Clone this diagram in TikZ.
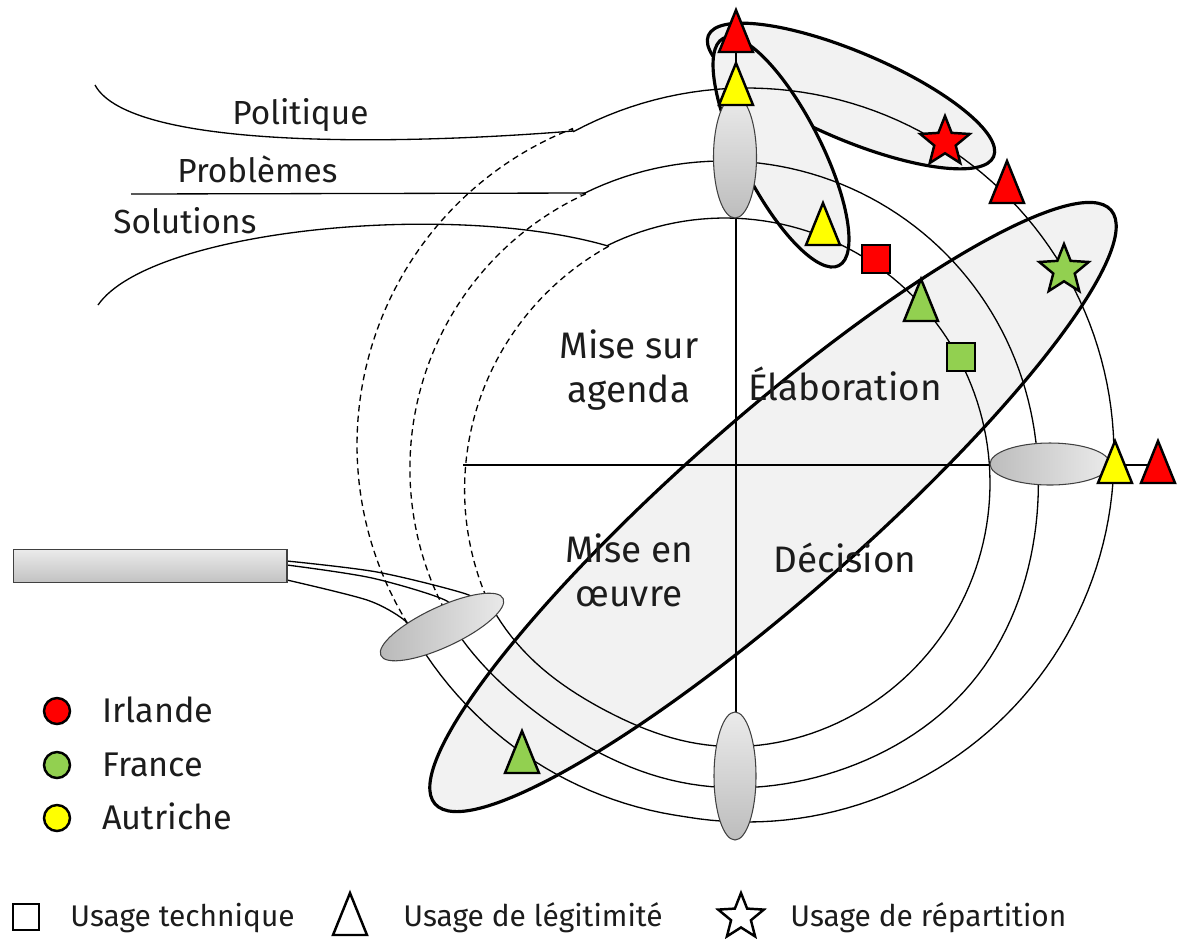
\documentclass[tikz,border=0pt]{standalone}
\usepackage{fontspec}
\setmainfont{Fira Sans}
\setsansfont{Fira Sans}
\usetikzlibrary{shapes.geometric}
\definecolor{ink}{HTML}{1C1C1C}
\definecolor{zonefill}{HTML}{F2F2F2}
\definecolor{irl}{HTML}{FF0000}
\definecolor{fra}{HTML}{92D050}
\definecolor{aut}{HTML}{FFFF00}
\tikzset{
  tri/.pic={\draw[mk,fill=#1] (0,-21) -- (17,21) -- (-17,21) -- cycle;}
}
\begin{document}
\begin{tikzpicture}[x=0.02cm,y=-0.02cm,font=\sffamily,text=ink,
  flow/.style={line width=0.75pt},
  gate/.style={flow,dash pattern=on 3.6pt off 2.4pt},
  zone/.style={ellipse,draw,line width=1.8pt,fill=zonefill,inner sep=0pt},
  hub/.style={ellipse,draw=black!75,line width=0.6pt,inner sep=0pt},
  mk/.style={draw=black,line width=1.4pt},
  sq/.style={mk,rectangle,minimum size=0.56cm,inner sep=0pt},
  st/.style={mk,star,star points=5,star point ratio=2.3,minimum size=1.04cm,inner sep=0pt},
  dot/.style={mk,circle,minimum size=0.52cm,inner sep=0pt},
  stream/.style={anchor=base west,inner sep=0pt,font=\sffamily\fontsize{19}{22}\selectfont},
  phase/.style={align=center,inner sep=0pt,font=\sffamily\fontsize{21}{25}\selectfont},
  key/.style={anchor=base west,inner sep=0pt,font=\sffamily\fontsize{19.5}{22}\selectfont},
  usage/.style={anchor=base west,inner sep=0pt,font=\sffamily\fontsize{17}{20}\selectfont}]
  \useasboundingbox (0,0) rectangle (1177,938);

  % coalitions
  \node[zone,minimum width=6.2cm,minimum height=1.76cm,rotate=-23] (zPol) at (851,96) {};
  \node[zone,minimum width=5.1cm,minimum height=1.6cm,rotate=-63] (zAgd) at (781,152) {};
  \node[zone,minimum width=18cm,minimum height=3.6cm,rotate=41.3] (zDec) at (773,507) {};

  % axes
  \coordinate (vTop) at (736,50);
  \coordinate (vBot) at (736,712);
  \coordinate (hL) at (463,465);
  \coordinate (hR) at (1160,465);
  \draw[flow] (vTop) -- (vBot);
  \draw[flow] (hL) -- (hR);

  % streams
  \coordinate (sPol) at (95,85);
  \coordinate (sPro) at (131,194);
  \coordinate (sSol) at (98,305);
  \coordinate (jPol) at (573,131);
  \coordinate (jPro) at (585,193);
  \coordinate (jSol) at (608,246);
  \coordinate (kO) at (412,633);
  \coordinate (kM) at (450,620);
  \coordinate (kI) at (491,607);
  \draw[flow] (sPol) .. controls (130,150) and (400,145) .. (jPol);
  \draw[flow] (sPro) -- (jPro);
  \draw[flow] (sSol) .. controls (150,230) and (450,200) .. (jSol);

  % cycles
  \draw[flow] (jPol) -- plot[domain=-118.2:152,samples=140]
    ({747+(367+0.23*max(0,\x-100))*cos(\x)},{455+(367+0.23*max(0,\x-100))*sin(\x)}) -- (kO);
  \draw[flow] (jPro) -- plot[domain=-116.1:152,samples=140]
    ({723+(314+10*exp(-((\x-40)/28)^2)-12*exp(-((\x-125)/26)^2))*cos(\x)},
     {475+(314+10*exp(-((\x-40)/28)^2)-12*exp(-((\x-125)/26)^2))*sin(\x)}) -- (kM);
  \draw[flow] (jSol) -- plot[domain=-116.3:152,samples=140]
    ({725+(265-8*exp(-((\x-118)/22)^2))*cos(\x)},{483+(265-8*exp(-((\x-118)/22)^2))*sin(\x)}) -- (kI);
  \draw[gate] (jPol) -- plot[domain=-111.5:-213.4,samples=80]
    ({697+340*cos(\x)},{445+340*sin(\x)}) -- (kO);
  \draw[gate] (jPro) -- plot[domain=-115.4:-210.4,samples=80]
    ({714+(300+6*(-115.4-\x)/95)*cos(\x)},{465+(300+6*(-115.4-\x)/95)*sin(\x)}) -- (kM);
  \draw[gate] (jSol) -- plot[domain=-118.3:-204.5,samples=80]
    ({741+(280-5*(-118.3-\x)/86)*cos(\x)},{493+(280-5*(-118.3-\x)/86)*sin(\x)}) -- (kI);

  % feedback to the bar
  \coordinate (rA) at (287,561);
  \coordinate (rB) at (287,565);
  \coordinate (rC) at (287,580);
  \draw[flow] plot[smooth] coordinates {(rA) (377,572) (463,593) (kI)};
  \draw[flow] plot[smooth] coordinates {(rB) (372,578) (447,601) (kM)};
  \draw[flow] plot[smooth] coordinates {(rC) (367,600) (403,619) (kO)};

  % windows
  \node[hub,minimum width=2.7cm,minimum height=0.8cm,rotate=25,
        left color=black!28,right color=black!8] (hLow) at (442,627) {};
  \node[hub,minimum width=0.86cm,minimum height=2.44cm,
        top color=black!8,bottom color=black!26] (hTop) at (735,157) {};
  \node[hub,minimum width=2.4cm,minimum height=0.84cm,
        left color=black!26,right color=black!8] (hRight) at (1050,464) {};
  \node[hub,minimum width=0.84cm,minimum height=2.56cm,
        top color=black!8,bottom color=black!26] (hBot) at (735,776) {};
  \node[hub,rectangle,minimum width=5.48cm,minimum height=0.66cm,
        top color=black!8,bottom color=black!24] (bar) at (150,566) {};

  % usages
  \foreach \x/\y/\c in {736/31/irl,736/84/aut,1007/182/irl,823/224/aut,
                        921/300/fra,1115/462/aut,1158/462/irl,522/752/fra}
    \pic at (\x,\y) {tri=\c};
  \node[sq,fill=irl] (sqIrl) at (876,259) {};
  \node[sq,fill=fra] (sqFra) at (961,357) {};
  \node[st,fill=irl] (stIrl) at (945,142) {};
  \node[st,fill=fra] (stFra) at (1064,270) {};

  % labels
  \node[stream] (tPol) at (232,124) {Politique};
  \node[stream] (tPro) at (177,182) {Problèmes};
  \node[stream] (tSol) at (113,233) {Solutions};
  \node[phase] (qAgd) at (629,370) {Mise sur\\agenda};
  \node[phase,anchor=base] (qEla) at (845,400) {Élaboration};
  \node[phase] (qOeu) at (629,570) {Mise en\\œuvre};
  \node[phase,anchor=base] (qDec) at (845,572) {Décision};

  % legend
  \foreach \y/\c/\t in {711/irl/Irlande,765/fra/France,818/aut/Autriche}{
    \node[dot,fill=\c] (d\c) at (57,\y) {};
    \node[key] (l\c) at (102,\y+11) {\t};
  }
  \node[mk,rectangle,minimum size=0.52cm,inner sep=0pt,fill=white] (kTech) at (26,917) {};
  \node[usage] (tTech) at (70,926) {Usage technique};
  \pic at (350,914) {tri=white};
  \node[usage] (tLeg) at (403,926) {Usage de légitimité};
  \node[st,fill=white,minimum size=0.96cm] (kRep) at (741,917) {};
  \node[usage] (tRep) at (790,926) {Usage de répartition};
\end{tikzpicture}
\end{document}
